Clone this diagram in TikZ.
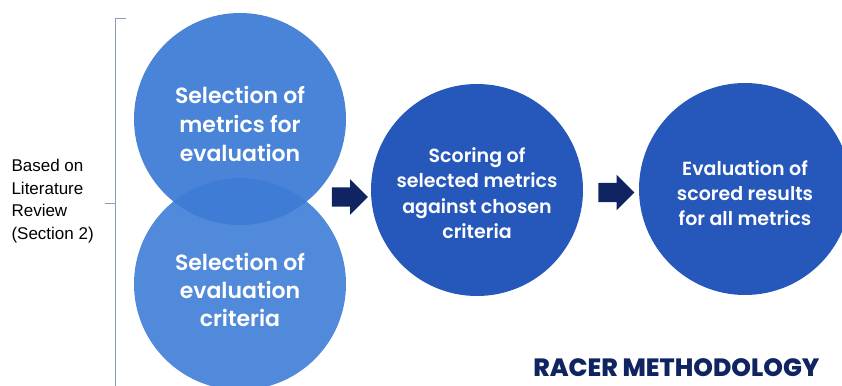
\documentclass[tikz,border=0pt]{standalone}
\usepackage{fontspec}
\setmainfont{Liberation Sans}
\newfontfamily\circfont{Poppins SemiBold}
\newfontfamily\headfont{Poppins ExtraBold}
\usetikzlibrary{shapes.arrows,calc}
\definecolor{blueA}{HTML}{4A84D8}
\definecolor{blueB}{HTML}{528ADB}
\definecolor{blueAB}{HTML}{3E7CD6}
\definecolor{blueC}{HTML}{2657BA}
\definecolor{navy}{HTML}{0F2460}
\definecolor{bracecol}{HTML}{8A9CC0}
\tikzset{
  stage/.style={circle, minimum size=212pt, inner sep=0pt},
  stagetext/.style={text=white, align=center, font=\circfont\fontsize{20}{26}\selectfont},
  flowarrow/.style={single arrow, fill=navy, draw=none, inner sep=9.5pt,
    single arrow head extend=8pt, single arrow head indent=0pt, minimum height=36pt},
  sidenote/.style={align=left, font=\fontsize{17}{22.5}\selectfont, text=black},
}
\begin{document}
\begin{tikzpicture}[x=1pt,y=-1pt]
\useasboundingbox (0,0) rectangle (842,385);
\clip (0,0) rectangle (842,385);

% two selection stages, overlapping
\node[stage, fill=blueA] (metrics) at (240,119) {};
\node[stage, fill=blueB] (criteria) at (240,284) {};
\begin{scope}
  \clip (240,119) circle (106);
  \fill[blueAB] (240,284) circle (106);
\end{scope}
\node[stagetext, font=\circfont\fontsize{22}{29}\selectfont] (metricsT) at ($(metrics)+(0,5)$) {Selection of\\metrics for\\evaluation};
\node[stagetext, font=\circfont\fontsize{22}{28}\selectfont] (criteriaT) at ($(criteria)+(0,6)$) {Selection of\\evaluation\\criteria};

% scoring and evaluation stages
\node[stage, fill=blueC] (score) at (477,190) {};
\node[stagetext, font=\circfont\fontsize{19}{25.5}\selectfont] (scoreT) at ($(score)+(0,3)$) {Scoring of\\selected metrics\\against chosen\\criteria};
\node[stage, fill=blueC] (evalc) at (745,189) {};
\node[stagetext, font=\circfont\fontsize{19}{25}\selectfont] (evalT) at ($(evalc)+(0,4)$) {Evaluation of\\scored results\\for all metrics};

% flow arrows
\node[flowarrow] (arr1) at (345,197) {};
\node[flowarrow] (arr2) at (611.5,192.5) {};

% bracket and its note
\coordinate (brTop) at (115,18);
\coordinate (brTopEnd) at (126,18);
\coordinate (brBot) at (115,390);
\coordinate (brMid) at (115,203);
\coordinate (brMidEnd) at (105,203);
\draw[bracecol, line width=0.8pt] (brTopEnd) -- (brTop) -- (brBot);
\draw[bracecol, line width=0.8pt] (brMid) -- (brMidEnd);
\node[sidenote, anchor=west] (note) at (8,201) {Based on\\Literature\\Review\\(Section 2)};

% title
\node[anchor=east, text=navy, font=\headfont\fontsize{25}{29}\selectfont] (title) at (823,368) {RACER METHODOLOGY};
\end{tikzpicture}
\end{document}
